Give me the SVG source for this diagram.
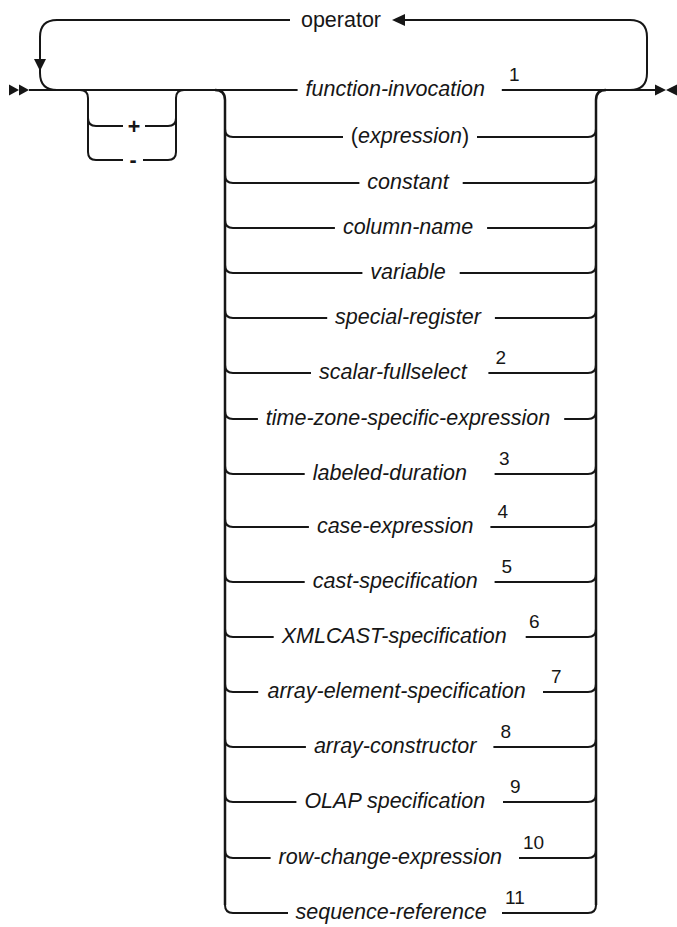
<svg xmlns="http://www.w3.org/2000/svg" width="677" height="927" viewBox="0 0 677 927">
<style>
.ln{fill:none;stroke:#161616;stroke-width:2;stroke-linecap:butt}
.vt{fill:none;stroke:#161616;stroke-width:2.5}
.ah{fill:#161616;stroke:none}
text{font-family:"Liberation Sans",Arial,sans-serif;fill:#161616}
.lb{font-size:21.5px;font-style:italic}
.kw{font-size:21.5px}
.op{font-size:21.5px;font-weight:bold}
.sp{font-size:19px}
</style>
<rect width="677" height="927" fill="#fff"/>
<g id="connectors">
<polygon class="ah" points="9,84.5 19,90 9,95.5"/>
<polygon class="ah" points="19,84.5 29,90 19,95.5"/>
<polygon class="ah" points="655,84.5 666,90 655,95.5"/>
<polygon class="ah" points="677,84.5 666,90 677,95.5"/>
<path class="ln" d="M29,90 L297.6,90"/>
<path class="ln" d="M501.8,90 L655,90"/>
<path class="ln" d="M290,20 L57,20 Q40,20 40,37 L40,73 Q40,90 57,90"/>
<polygon class="ah" points="34,59 46,59 40,71"/>
<path class="ln" d="M405,20 L630,20 Q647,20 647,37 L647,73 Q647,90 630,90"/>
<polygon class="ah" points="392,20 405,14 405,26"/>
<path class="ln" d="M80,90 Q88,90 88,98 L88,152 Q88,160 96,160 L123,160"/>
<path class="ln" d="M143,160 L168,160 Q176,160 176,152 L176,98 Q176,90 184,90"/>
<path class="ln" d="M88,118 Q88,126 96,126 L123,126"/>
<path class="ln" d="M145,126 L168,126 Q176,126 176,118"/>
<path class="vt" d="M215,90 Q225,90 225,100 L225,905"/>
<path class="vt" d="M606,90 Q596,90 596,100 L596,905"/>
<path class="ln" d="M225,129 Q225,137 233,137 L343,137 M477,137 L588,137 Q596,137 596,129"/>
<path class="ln" d="M225,175 Q225,183 233,183 L359.4,183 M462.7,183 L588,183 Q596,183 596,175"/>
<path class="ln" d="M225,220 Q225,228 233,228 L334.9,228 M487.1,228 L588,228 Q596,228 596,220"/>
<path class="ln" d="M225,265 Q225,273 233,273 L362.4,273 M459.7,273 L588,273 Q596,273 596,265"/>
<path class="ln" d="M225,310 Q225,318 233,318 L327.2,318 M494.9,318 L588,318 Q596,318 596,310"/>
<path class="ln" d="M225,365 Q225,373 233,373 L311,373 M488.4,373 L588,373 Q596,373 596,365"/>
<path class="ln" d="M225,411 Q225,419 233,419 L257.9,419 M564.2,419 L588,419 Q596,419 596,411"/>
<path class="ln" d="M225,466 Q225,474 233,474 L304.7,474 M494.6,474 L588,474 Q596,474 596,466"/>
<path class="ln" d="M225,519 Q225,527 233,527 L308.9,527 M490.4,527 L588,527 Q596,527 596,519"/>
<path class="ln" d="M225,574 Q225,582 233,582 L304.7,582 M494.6,582 L588,582 Q596,582 596,574"/>
<path class="ln" d="M225,629 Q225,637 233,637 L273.7,637 M525.7,637 L588,637 Q596,637 596,629"/>
<path class="ln" d="M225,684 Q225,692 233,692 L258.2,692 M543,692 L588,692 Q596,692 596,684"/>
<path class="ln" d="M225,739 Q225,747 233,747 L305.9,747 M493.4,747 L588,747 Q596,747 596,739"/>
<path class="ln" d="M225,794 Q225,802 233,802 L296.4,802 M503,802 L588,802 Q596,802 596,794"/>
<path class="ln" d="M225,850 Q225,858 233,858 L270.6,858 M519,858 L588,858 Q596,858 596,850"/>
<path class="ln" d="M225,905 Q225,913 233,913 L288,913 M502,913 L588,913 Q596,913 596,905"/>
</g>
<g id="operator"><text class="kw" x="341" y="26.5" text-anchor="middle">operator</text></g>
<g id="plus"><text class="op" x="134" y="133.5" text-anchor="middle">+</text></g>
<g id="minus"><text class="op" x="133" y="167" text-anchor="middle">-</text></g>
<g id="function-invocation"><text class="lb" x="305.6" y="96">function-invocation</text><text class="sp" x="509" y="81">1</text></g>
<g id="expression"><text class="kw" x="410" y="143" text-anchor="middle">(<tspan font-style="italic">expression</tspan>)</text></g>
<g id="constant"><text class="lb" x="408" y="189" text-anchor="middle">constant</text></g>
<g id="column-name"><text class="lb" x="408" y="234" text-anchor="middle">column-name</text></g>
<g id="variable"><text class="lb" x="408" y="279" text-anchor="middle">variable</text></g>
<g id="special-register"><text class="lb" x="408" y="324" text-anchor="middle">special-register</text></g>
<g id="scalar-fullselect"><text class="lb" x="319" y="379">scalar-fullselect</text><text class="sp" x="495.4" y="364">2</text></g>
<g id="time-zone-specific-expression"><text class="lb" x="408" y="425" text-anchor="middle">time-zone-specific-expression</text></g>
<g id="labeled-duration"><text class="lb" x="312.7" y="480">labeled-duration</text><text class="sp" x="499" y="465">3</text></g>
<g id="case-expression"><text class="lb" x="316.9" y="533">case-expression</text><text class="sp" x="497.4" y="518">4</text></g>
<g id="cast-specification"><text class="lb" x="312.7" y="588">cast-specification</text><text class="sp" x="501.6" y="573">5</text></g>
<g id="xmlcast-specification"><text class="lb" x="281.7" y="643">XMLCAST-specification</text><text class="sp" x="529" y="628">6</text></g>
<g id="array-element-specification"><text class="lb" x="267.5" y="698">array-element-specification</text><text class="sp" x="551" y="683">7</text></g>
<g id="array-constructor"><text class="lb" x="313.9" y="753">array-constructor</text><text class="sp" x="500.4" y="738">8</text></g>
<g id="olap-specification"><text class="lb" x="304.4" y="808">OLAP specification</text><text class="sp" x="510" y="793">9</text></g>
<g id="row-change-expression"><text class="lb" x="278.6" y="864">row-change-expression</text><text class="sp" x="523" y="849">10</text></g>
<g id="sequence-reference"><text class="lb" x="295.5" y="919">sequence-reference</text><text class="sp" x="505" y="904">11</text></g>
</svg>
